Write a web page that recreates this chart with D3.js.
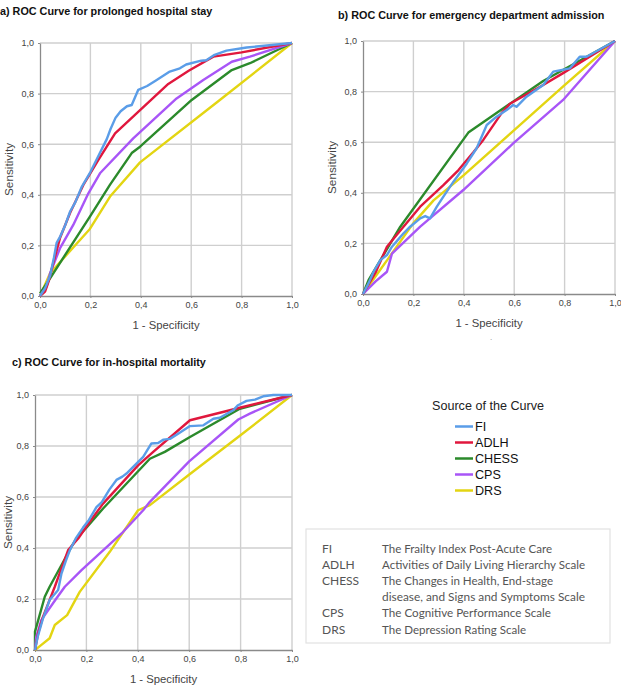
<!DOCTYPE html>
<html><head><meta charset="utf-8">
<script src="https://cdn.jsdelivr.net/npm/d3@7"></script>
<style>html,body{margin:0;padding:0;background:#fff}svg{display:block}</style>
</head><body>
<script>
// ---------- DATA ----------
const seriesNames = ["FI","ADLH","CHESS","CPS","DRS"];
const seriesColors = ["#5a9de8","#e0173d","#2b8a2b","#a855f7","#e3d512"];
const tickValues = [0,0.2,0.4,0.6,0.8,1.0];
const panelTitles = ["a) ROC Curve for prolonged hospital stay","b) ROC Curve for emergency department admission","c) ROC Curve for in-hospital mortality"];
const legendTitle = "Source of the Curve";
const abbrevs = ["FI","ADLH","CHESS","","CPS","DRS"];
const descriptions = ["The Frailty Index Post-Acute Care","Activities of Daily Living Hierarchy Scale","The Changes in Health, End-stage","disease, and Signs and Symptoms Scale","The Cognitive Performance Scale","The Depression Rating Scale"];

// panel a: prolonged hospital stay
const fiA = [[0,0],[0.02,0.03],[0.04,0.08],[0.055,0.15],[0.066,0.21],[0.08,0.235],[0.1,0.28],[0.12,0.335],[0.14,0.37],[0.165,0.43],[0.2,0.49],[0.24,0.57],[0.265,0.62],[0.28,0.66],[0.3,0.705],[0.32,0.73],[0.345,0.75],[0.364,0.755],[0.39,0.815],[0.425,0.83],[0.46,0.852],[0.515,0.887],[0.555,0.9],[0.58,0.915],[0.64,0.93],[0.66,0.932],[0.69,0.952],[0.74,0.97],[0.82,0.982],[0.9,0.99],[1,1]];
const adlhA = [[0,0],[0.02,0.017],[0.035,0.06],[0.05,0.12],[0.079,0.228],[0.12,0.33],[0.172,0.439],[0.231,0.537],[0.298,0.643],[0.509,0.838],[0.59,0.89],[0.688,0.946],[0.8,0.963],[1,1]];
const chessA = [[0,0.01],[0.04,0.07],[0.198,0.314],[0.278,0.44],[0.364,0.565],[0.397,0.59],[0.602,0.775],[0.761,0.893],[0.833,0.92],[1,1]];
const cpsA = [[0,0],[0.026,0.037],[0.04,0.09],[0.079,0.188],[0.132,0.281],[0.192,0.406],[0.238,0.485],[0.37,0.623],[0.542,0.781],[0.648,0.854],[0.761,0.926],[0.833,0.946],[1,1]];
const drsA = [[0,0],[0.04,0.09],[0.198,0.265],[0.278,0.393],[0.397,0.528],[0.701,0.765],[1,1]];

// panel b: emergency department admission
const fiB = [[0,0],[0.022,0.042],[0.042,0.088],[0.069,0.134],[0.095,0.154],[0.115,0.187],[0.135,0.21],[0.161,0.24],[0.187,0.266],[0.227,0.299],[0.247,0.308],[0.266,0.299],[0.293,0.345],[0.319,0.385],[0.359,0.444],[0.412,0.516],[0.451,0.576],[0.491,0.668],[0.53,0.701],[0.57,0.727],[0.596,0.747],[0.609,0.74],[0.649,0.78],[0.715,0.826],[0.755,0.879],[0.821,0.892],[0.86,0.938],[0.887,0.938],[1,1]];
const adlhB = [[0,0],[0.05,0.085],[0.095,0.187],[0.135,0.235],[0.227,0.345],[0.319,0.43],[0.379,0.49],[0.438,0.56],[0.478,0.61],[0.55,0.715],[0.583,0.752],[0.715,0.826],[0.794,0.873],[1,1]];
const chessB = [[0,0],[0.022,0.055],[0.148,0.266],[0.418,0.638],[0.57,0.743],[0.715,0.842],[1,1]];
const cpsB = [[0,0],[0.05,0.05],[0.095,0.088],[0.115,0.16],[0.227,0.266],[0.398,0.411],[0.596,0.595],[0.794,0.767],[1,1]];
const drsB = [[0,0],[0.05,0.07],[0.1,0.14],[0.2,0.28],[0.28,0.37],[0.4,0.47],[0.6,0.648],[0.8,0.826],[1,1]];

// panel c: in-hospital mortality
const fiC = [[0,0],[0.01,0.05],[0.03,0.12],[0.057,0.196],[0.09,0.235],[0.103,0.3],[0.12,0.35],[0.135,0.39],[0.16,0.44],[0.187,0.48],[0.21,0.51],[0.239,0.56],[0.26,0.58],[0.29,0.63],[0.317,0.667],[0.34,0.68],[0.356,0.692],[0.382,0.718],[0.421,0.757],[0.453,0.81],[0.479,0.812],[0.5,0.825],[0.525,0.828],[0.56,0.85],[0.603,0.878],[0.655,0.881],[0.694,0.907],[0.719,0.911],[0.771,0.94],[0.79,0.96],[0.823,0.977],[0.856,0.982],[0.888,0.995],[0.927,1],[1,1]];
const adlhC = [[0,0],[0.012,0.065],[0.031,0.13],[0.077,0.248],[0.129,0.392],[0.168,0.437],[0.213,0.503],[0.265,0.574],[0.401,0.724],[0.46,0.777],[0.603,0.901],[0.797,0.95],[1,1]];
const chessC = [[0,0],[0,0.072],[0.038,0.209],[0.057,0.248],[0.142,0.405],[0.161,0.437],[0.2,0.48],[0.265,0.555],[0.447,0.75],[0.505,0.777],[0.603,0.835],[0.797,0.946],[1,1]];
const cpsC = [[0,0],[0.005,0.052],[0.025,0.118],[0.083,0.202],[0.116,0.248],[0.181,0.313],[0.337,0.457],[0.421,0.548],[0.447,0.581],[0.6,0.74],[0.791,0.904],[0.836,0.927],[1,1]];
const drsC = [[0,0],[0.025,0.02],[0.057,0.046],[0.077,0.098],[0.125,0.137],[0.174,0.228],[0.291,0.385],[0.401,0.548],[0.447,0.568],[0.603,0.69],[0.797,0.84],[1,1]];

const panelSeries = [[fiA,adlhA,chessA,cpsA,drsA],[fiB,adlhB,chessB,cpsB,drsB],[fiC,adlhC,chessC,cpsC,drsC]];

// ---------- LAYOUT ----------
const W = 621, H = 685;
const panels = [
  {l:40, r:292, t:43, b:296, tx:0, ty:15},
  {l:363, r:615, t:41, b:294, tx:338, ty:19},
  {l:35, r:292, t:395, b:650, tx:12, ty:366}
];
const svg = d3.select("body").append("svg").attr("width",W).attr("height",H)
  .style("font-family","'Liberation Sans', Arial, sans-serif");

const fmt = v => d3.format(".1f")(v).replace(".",",");

panels.forEach((p,i) => {
  const x = d3.scaleLinear().domain([0,1]).range([p.l,p.r]);
  const y = d3.scaleLinear().domain([0,1]).range([p.b,p.t]);
  const g = svg.append("g");
  svg.append("text").attr("x",p.tx).attr("y",p.ty).attr("font-size",10.8).attr("font-weight","bold")
    .attr("fill","#111").text(panelTitles[i]);
  g.selectAll(".gx").data(tickValues.slice(1)).enter().append("line")
    .attr("x1",d=>x(d)).attr("x2",d=>x(d)).attr("y1",p.t).attr("y2",p.b)
    .attr("stroke","#cfcfcf").attr("stroke-width",1.4);
  g.selectAll(".gy").data(tickValues.slice(1)).enter().append("line")
    .attr("y1",d=>y(d)).attr("y2",d=>y(d)).attr("x1",p.l).attr("x2",p.r)
    .attr("stroke","#cfcfcf").attr("stroke-width",1.4);
  const ax = g.append("g").attr("transform",`translate(0,${p.b})`)
    .call(d3.axisBottom(x).tickValues(tickValues).tickFormat(fmt).tickSize(2).tickSizeOuter(0).tickPadding(4));
  const ay = g.append("g").attr("transform",`translate(${p.l},0)`)
    .call(d3.axisLeft(y).tickValues(tickValues).tickFormat(fmt).tickSize(2).tickSizeOuter(0).tickPadding(4));
  [ax,ay].forEach(a => {
    a.select(".domain").attr("stroke","#8a8a8a").attr("stroke-width",1.3);
    a.selectAll(".tick line").attr("stroke","#8a8a8a");
    a.selectAll("text").attr("font-size",9).attr("fill","#444").attr("font-family","'Liberation Sans', Arial, sans-serif");
  });
  const line = d3.line().x(d=>x(d[0])).y(d=>y(d[1]));
  const order = [4,2,3,1,0];
  order.forEach(k => {
    g.append("path").datum(panelSeries[i][k]).attr("d",line).attr("fill","none")
      .attr("stroke",seriesColors[k]).attr("stroke-width",2.4).attr("stroke-linejoin","round");
  });
  svg.append("text").attr("x",(p.l+p.r)/2).attr("y",p.b+33).attr("text-anchor","middle")
    .attr("font-size",11.3).attr("fill","#444").text("1 - Specificity");
  svg.append("text").attr("transform",`translate(${Math.max(p.l-27,12)},${(p.t+p.b)/2}) rotate(-90)`)
    .attr("text-anchor","middle").attr("font-size",11.8).attr("fill","#444").text("Sensitivity");
});

// small stray mark under panel b
svg.append("text").attr("x",490).attr("y",340).attr("font-size",8).attr("fill","#888").text(".");

// legend
const lg = svg.append("g");
lg.append("text").attr("x",432).attr("y",410).attr("font-size",12.6).attr("fill","#222").text(legendTitle);
seriesNames.forEach((n,k) => {
  const yy = 426.5 + k*16;
  lg.append("line").attr("x1",455).attr("x2",473).attr("y1",yy).attr("y2",yy)
    .attr("stroke",seriesColors[k]).attr("stroke-width",2.5);
  lg.append("text").attr("x",475).attr("y",yy+4.5).attr("font-size",12.6).attr("fill","#111").text(n);
});

// abbreviation table
const tb = svg.append("g").style("font-family","Lato, 'Open Sans', sans-serif");
tb.append("rect").attr("x",306).attr("y",529).attr("width",304).attr("height",114)
  .attr("fill","#fff").attr("stroke","#e2e2e2").attr("stroke-width",1.2);
const descWidths = [170,203,171,203,169,144];
descriptions.forEach((d,k) => {
  const yy = 552.5 + k*16.2;
  if (abbrevs[k]) tb.append("text").attr("x",322).attr("y",yy).attr("font-size",12).attr("fill","#555").text(abbrevs[k]);
  tb.append("text").attr("x",382).attr("y",yy).attr("font-size",12).attr("fill","#555")
    .attr("textLength",descWidths[k]).attr("lengthAdjust","spacingAndGlyphs").text(d);
});
</script>
</body></html>
